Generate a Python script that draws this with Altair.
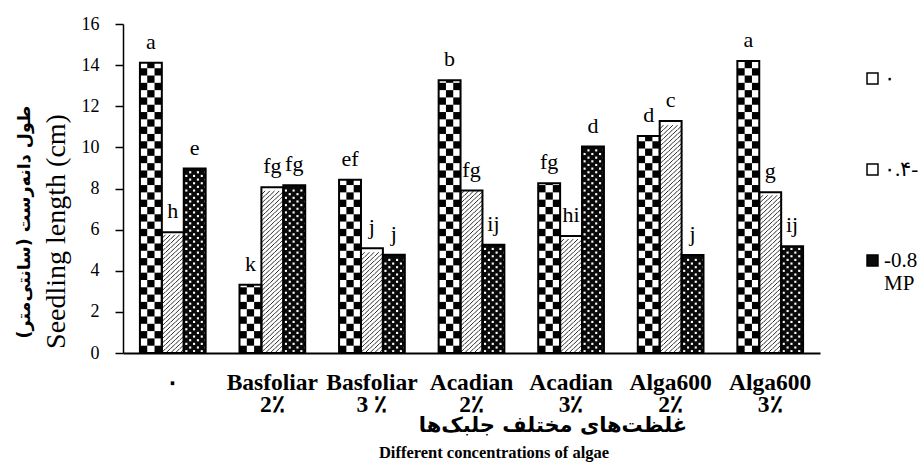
import math
import altair as alt
import pandas as pd

# ---------------- data ----------------
categories = ["۰", "Basfoliar|2٪", "Basfoliar|3 ٪", "Acadian|2٪", "Acadian|3٪", "Alga600|2٪", "Alga600|3٪"]
series = ["۰", "۰.۴-", "-0.8|MP"]
values_s0 = [14.12, 3.32, 8.42, 13.26, 8.26, 10.55, 14.20]
values_s1 = [5.87, 8.06, 5.09, 7.90, 5.69, 11.28, 7.82]
values_s2 = [8.97, 8.16, 4.78, 5.27, 10.04, 4.77, 5.19]
letters_s0 = ["a", "k", "ef", "b", "fg", "d", "a"]
letters_s1 = ["h", "fg", "j", "fg", "hi", "c", "g"]
letters_s2 = ["e", "fg", "j", "ij", "d", "j", "ij"]
y_ticks = [0, 2, 4, 6, 8, 10, 12, 14, 16]

y_title_en = "Seedling length (cm)"
y_title_fa = "طول دانه‌رست (سانتی‌متر)"
x_title_fa = "غلظت‌های مختلف جلبک‌ها"
x_title_en = "Different concentrations of algae"

# ---------------- layout / style ----------------
W, H = 697, 329
YMAX = 16
PAD_IN, PAD_OUT = 0.34, 0.17
px_per_unit = H / YMAX
step = W / (len(categories) - PAD_IN + 2 * PAD_OUT)
band = step * (1 - PAD_IN)
SERIF = "Liberation Serif"

all_values = [values_s0, values_s1, values_s2]
all_letters = [letters_s0, letters_s1, letters_s2]

rows = []
for si, s in enumerate(series):
    for ci, c in enumerate(categories):
        rows.append({"cat": c, "series": s, "value": all_values[si][ci], "letter": all_letters[si][ci]})
bars = pd.DataFrame(rows)


def pattern_cells(si, ncols, mode):
    """Grid cells used to paint a fill pattern inside every bar of series si."""
    cw = band / (3 * ncols)
    ch = cw / px_per_unit
    out = []
    for ci, c in enumerate(categories):
        v = all_values[si][ci]
        nrows = math.ceil(v / ch) if mode == "clip" else int(v // ch)
        for r in range(nrows):
            for k in range(ncols):
                out.append({"cat": c, "sub": si * ncols + k, "r": r, "k": k,
                            "y0": r * ch, "y1": min((r + 1) * ch, v), "yc": (r + 0.5) * ch})
    return pd.DataFrame(out), cw


checker_df, cw_checker = pattern_cells(0, 3, "clip")
checker_df = checker_df[(checker_df["r"] + checker_df["k"]) % 2 == 0]
hatch_df, cw_hatch = pattern_cells(1, 5, "full")
dots_df, cw_dots = pattern_cells(2, 6, "full")
dots_df = dots_df[(dots_df["r"] + dots_df["k"]) % 2 == 0]

x_axis = alt.Axis(labelExpr="split(datum.label, '|')", labelAngle=0, labelFont=SERIF,
                  labelFontWeight="bold", labelFontSize=23.5, labelLineHeight=22,
                  labelColor="black", labelPadding=17, ticks=False,
                  domainColor="black", domainWidth=2, title=None)
y_axis = alt.Axis(values=y_ticks, grid=False, labelFont=SERIF, labelFontSize=18,
                  labelColor="black", labelPadding=16, tickSize=8, tickColor="black",
                  tickWidth=1.5, domainColor="black", domainWidth=1.5,
                  title=y_title_en, titleFont=SERIF, titleFontWeight="normal",
                  titleFontSize=28, titleColor="black", titlePadding=11, titleY=207)

x_enc = alt.X("cat:N", sort=categories,
              scale=alt.Scale(domain=categories, paddingInner=PAD_IN, paddingOuter=PAD_OUT),
              axis=x_axis)
y_scale = alt.Scale(domain=[0, YMAX], nice=False)
off_series = alt.XOffset("series:N", scale=alt.Scale(domain=series, range=[0, band],
                                                     paddingInner=0, paddingOuter=0))


def off_sub(n):
    return alt.XOffset("sub:O", scale=alt.Scale(domain=list(range(3 * n)), range=[0, band],
                                                paddingInner=0, paddingOuter=0))


def y_of(field):
    return alt.Y(field, scale=y_scale, axis=y_axis)


base = alt.Chart(bars).mark_bar(stroke=None).encode(
    x=x_enc,
    xOffset=off_series,
    y=y_of("value:Q"),
    fill=alt.Fill("series:N", scale=alt.Scale(domain=series, range=["#ffffff", "#ffffff", "#0a0a0a"]),
                  legend=alt.Legend(orient="none", legendX=739, legendY=44, title=None,
                                    symbolType="square", symbolSize=120, symbolStrokeColor="black",
                                    symbolStrokeWidth=1.5, labelFont=SERIF, labelFontSize=21,
                                    labelColor="black", labelExpr="split(datum.label, '|')",
                                    rowPadding=69, labelOffset=1)),
)

checker = alt.Chart(checker_df).mark_bar(color="black", stroke=None).encode(
    x=x_enc, xOffset=off_sub(3),
    y=y_of("y0:Q"), y2="y1:Q",
)

hatch = alt.Chart(hatch_df).mark_point(shape="M-1,1L1,-1", filled=False, stroke="#111111",
                                       strokeWidth=0.9, size=cw_hatch ** 2, opacity=1,
                                       dx=cw_hatch / 2).encode(
    x=x_enc, xOffset=off_sub(5),
    y=y_of("yc:Q"),
)

dots = alt.Chart(dots_df).mark_square(color="white", size=4.5, opacity=1, dx=cw_dots / 2).encode(
    x=x_enc, xOffset=off_sub(6),
    y=y_of("yc:Q"),
)

outline = alt.Chart(bars).mark_bar(fillOpacity=0, stroke="black", strokeWidth=2).encode(
    x=x_enc, xOffset=off_series,
    y=y_of("value:Q"),
)

# letters: one layer per series, placed over the centre of each bar
label_layers = []
for si, s in enumerate(series):
    shift = band * (si + 0.5) / 3 - band / 2
    label_layers.append(
        alt.Chart(bars).transform_filter(alt.datum.series == s).mark_text(
            font=SERIF, fontSize=22, color="black", dy=-14, dx=shift, baseline="alphabetic"
        ).encode(x=x_enc, y=y_of("value:Q"), text="letter:N")
    )

fa_title = alt.Chart(pd.DataFrame({"t": [y_title_fa]})).mark_text(
    font="DejaVu Sans", fontWeight="bold", fontSize=17.5, angle=270, color="black",
    baseline="middle", align="center").encode(
    x=alt.value(-98), y=alt.value(198), text="t:N")

fa_x_title = alt.Chart(pd.DataFrame({"t": [x_title_fa]})).mark_text(
    font="DejaVu Sans", fontWeight="bold", fontSize=21, color="black",
    baseline="middle", align="center").encode(
    x=alt.value(430), y=alt.value(H + 73), text="t:N")

en_x_title = alt.Chart(pd.DataFrame({"t": [x_title_en]})).mark_text(
    font=SERIF, fontWeight="bold", fontSize=16.5, color="black",
    baseline="alphabetic", align="center").encode(
    x=alt.value(371), y=alt.value(H + 105), text="t:N")

chart = alt.layer(base, checker, hatch, dots, outline, *label_layers,
                  fa_title, fa_x_title, en_x_title).resolve_scale(
    xOffset="independent"
).properties(
    width=W, height=H,
    autosize=alt.AutoSizeParams(type="none"),
    padding={"left": 123, "top": 24, "right": 98, "bottom": 120},
    background="white",
).configure_view(stroke=None)

chart.save("out.html", embed_options={"renderer": "svg", "actions": False})
